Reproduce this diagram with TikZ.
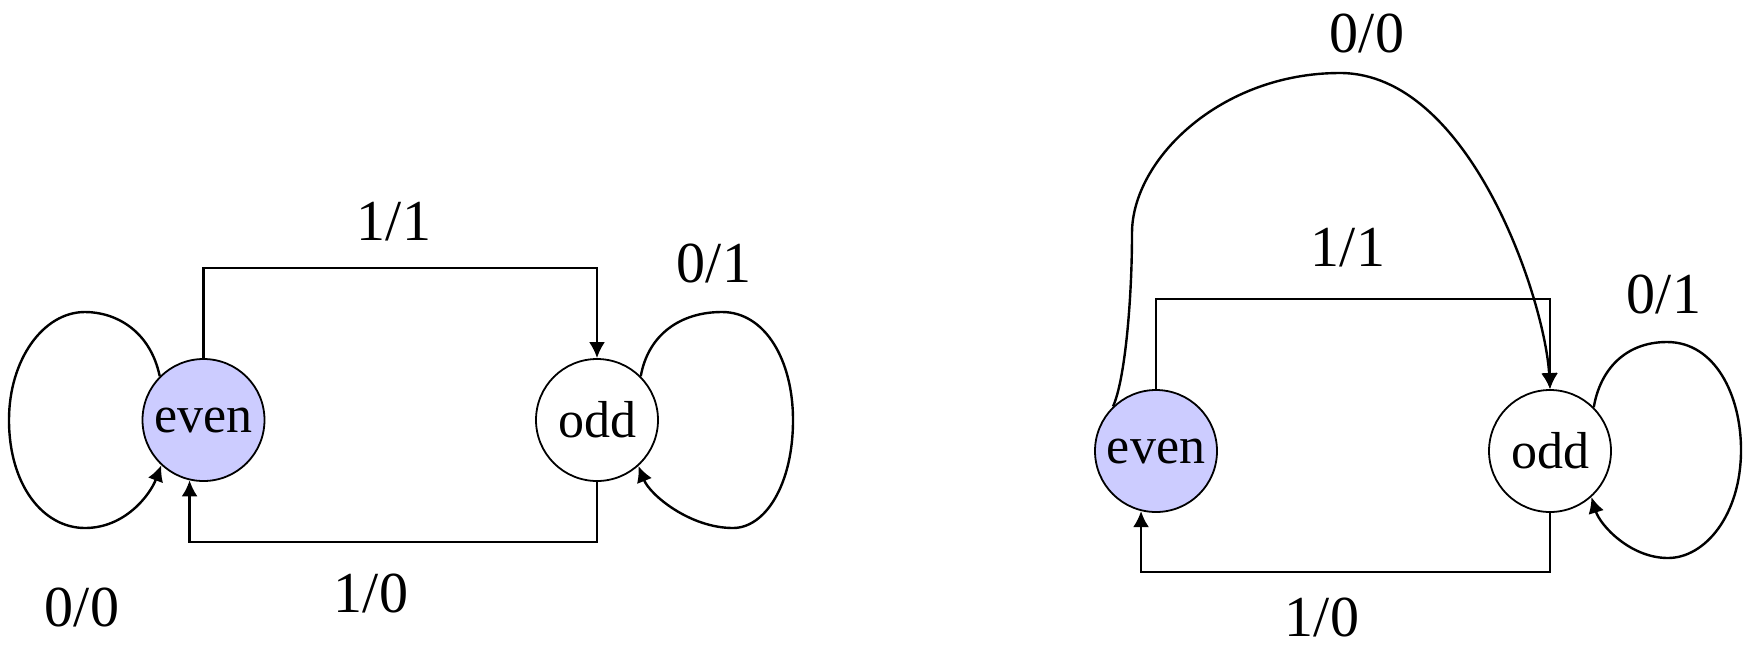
\documentclass[tikz,border=0pt]{standalone}
\usepackage{fontspec}
\setmainfont{Liberation Serif}
\usetikzlibrary{arrows.meta}
\definecolor{evenfill}{RGB}{204,204,255}

\begin{document}
\begin{tikzpicture}[x=0.5pt,y=-0.5pt,
  state/.style={circle,draw,line width=0.9pt,minimum size=61pt,inner sep=0pt,font=\fontsize{26}{30}\selectfont},
  lbl/.style={font=\fontsize{29}{32}\selectfont},
  arr/.style={line width=1.2pt,-{Latex[length=8pt,width=8pt]}}]
\useasboundingbox (0,0) rectangle (1744,649);
% left machine
\node[state,fill=evenfill] (e1) at (203.5,420) {even};
\node[state,fill=white] (o1) at (597,420) {odd};
\draw[arr] (e1.north) -- ++(0,-90) -| (o1.north);
\draw[arr] (o1.south) -- ++(0,60) -| (e1.257);
\draw[arr] (e1.135) .. controls (150,330) and (115,312) .. (85,312)
  .. controls (43,312) and (9,360) .. (9,420)
  .. controls (9,485) and (43,528) .. (85,528)
  .. controls (125,528) and (150,495) .. (e1.227);
\draw[arr] (o1.45) .. controls (648,335) and (680,312) .. (722,312)
  .. controls (765,312) and (793,360) .. (793,420)
  .. controls (793,485) and (765,528) .. (733,528)
  .. controls (690,528) and (650,495) .. (o1.312);
\path (394,222) node[lbl] {1/1}
      (714,263) node[lbl] {0/1}
      (371,593) node[lbl] {1/0}
      (82,607) node[lbl] {0/0}
      ;
% right machine
\node[state,fill=evenfill] (e2) at (1156,451) {even};
\node[state,fill=white] (o2) at (1550,451) {odd};
\draw[arr] (e2.north) -- ++(0,-90) -| (o2.north);
\draw[arr] (o2.south) -- ++(0,59) -| (e2.256);
\draw[arr] (e2.134) .. controls (1125,380) and (1132,300) .. (1132,233)
  .. controls (1132,160) and (1220,73) .. (1340,73)
  .. controls (1470,73) and (1545,300) .. (o2.north);
\draw[arr] (o2.45) .. controls (1600,370) and (1625,342) .. (1667,342)
  .. controls (1715,342) and (1741,395) .. (1741,450)
  .. controls (1741,515) and (1705,558) .. (1668,558)
  .. controls (1630,558) and (1600,525) .. (o2.312);
\path (1367,33) node[lbl] {0/0}
      (1348,248) node[lbl] {1/1}
      (1664,294) node[lbl] {0/1}
      (1322,617) node[lbl] {1/0}
      ;
\end{tikzpicture}
\end{document}
